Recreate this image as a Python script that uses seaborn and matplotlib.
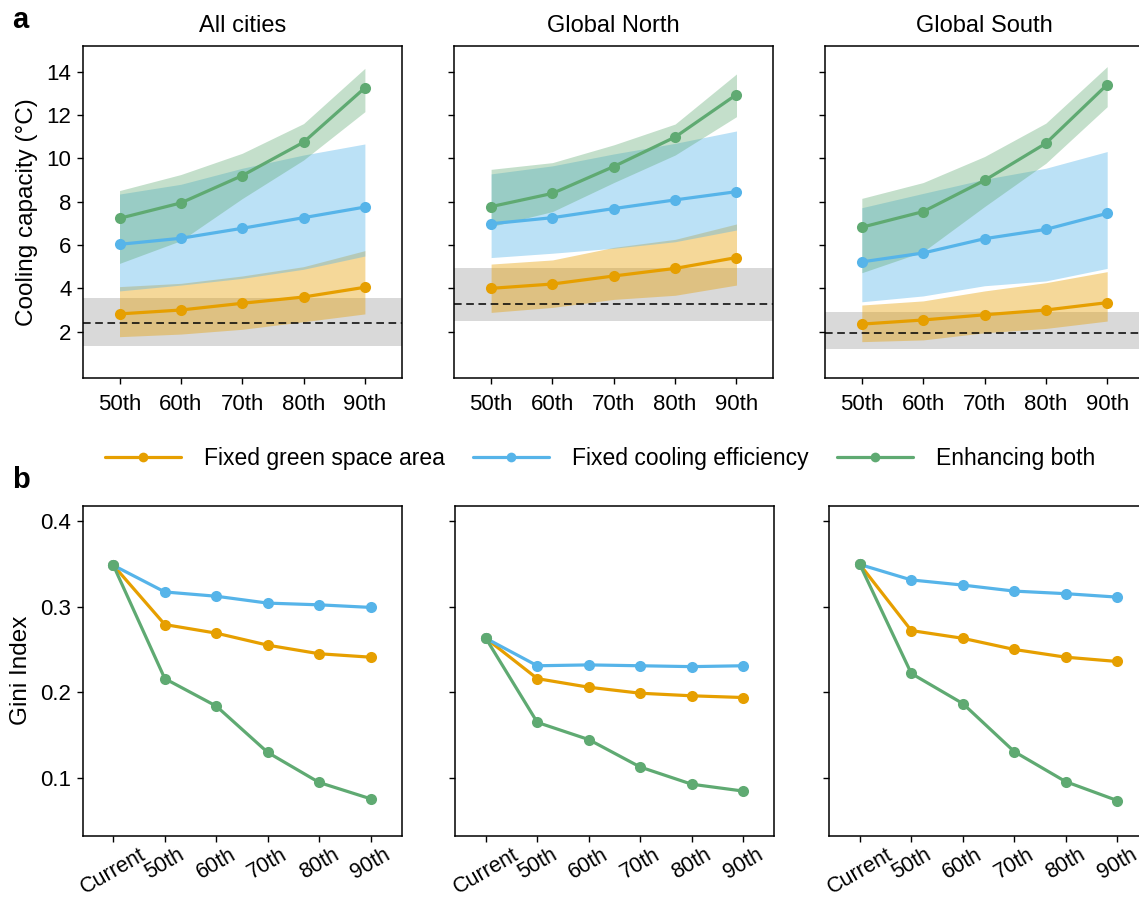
import numpy as np
import pandas as pd
import matplotlib
matplotlib.use("Agg")
import matplotlib.pyplot as plt
import seaborn as sns
from matplotlib.lines import Line2D

sns.set_theme(style="ticks")
plt.rcParams['font.family'] = ['Liberation Sans', 'DejaVu Sans']
plt.rcParams['text.color'] = 'black'
plt.rcParams['axes.labelcolor'] = 'black'
plt.rcParams['xtick.color'] = 'black'
plt.rcParams['ytick.color'] = 'black'

# ---------------- data ----------------
percentiles = ["50th", "60th", "70th", "80th", "90th"]
gini_x = ["Current", "50th", "60th", "70th", "80th", "90th"]
regions = ["All cities", "Global North", "Global South"]
scenarios = ["Fixed green space area", "Fixed cooling efficiency", "Enhancing both"]

# Panel a: cooling capacity (mean, lower, upper)
all_green_mean = [7.23, 7.94, 9.20, 10.74, 13.25]
all_green_low = [5.15, 6.20, 8.14, 9.92, 12.15]
all_green_high = [8.51, 9.25, 10.23, 11.60, 14.15]
all_blue_mean = [6.03, 6.31, 6.77, 7.26, 7.75]
all_blue_low = [3.88, 4.15, 4.46, 4.88, 5.49]
all_blue_high = [8.35, 8.80, 9.54, 10.15, 10.66]
all_orange_mean = [2.82, 3.00, 3.31, 3.60, 4.05]
all_orange_low = [1.77, 1.89, 2.11, 2.46, 2.82]
all_orange_high = [4.08, 4.23, 4.57, 5.00, 5.74]
all_current = 2.40
all_current_low = 1.35
all_current_high = 3.54

gn_green_mean = [7.77, 8.38, 9.62, 10.98, 12.94]
gn_green_low = [6.85, 7.54, 8.88, 10.15, 11.92]
gn_green_high = [9.49, 9.80, 10.62, 11.58, 13.89]
gn_blue_mean = [6.98, 7.26, 7.68, 8.08, 8.46]
gn_blue_low = [5.42, 5.62, 5.85, 6.15, 6.69]
gn_blue_high = [9.28, 9.65, 10.20, 10.69, 11.26]
gn_orange_mean = [4.00, 4.20, 4.57, 4.92, 5.42]
gn_orange_low = [2.89, 3.12, 3.49, 3.68, 4.15]
gn_orange_high = [5.12, 5.31, 5.89, 6.26, 6.97]
gn_current = 3.26
gn_current_low = 2.49
gn_current_high = 4.92

gs_green_mean = [6.82, 7.54, 8.98, 10.69, 13.40]
gs_green_low = [4.72, 5.69, 7.77, 9.77, 12.38]
gs_green_high = [8.15, 8.88, 10.08, 11.62, 14.23]
gs_blue_mean = [5.22, 5.63, 6.29, 6.72, 7.46]
gs_blue_low = [3.38, 3.65, 4.12, 4.34, 4.92]
gs_blue_high = [7.72, 8.38, 9.03, 9.54, 10.31]
gs_orange_mean = [2.35, 2.54, 2.78, 3.00, 3.34]
gs_orange_low = [1.54, 1.62, 1.95, 2.15, 2.49]
gs_orange_high = [3.23, 3.42, 3.88, 4.26, 4.77]
gs_current = 1.92
gs_current_low = 1.20
gs_current_high = 2.92

# Panel b: Gini index
all_gini_orange = [0.348, 0.279, 0.269, 0.255, 0.245, 0.241]
all_gini_blue = [0.348, 0.317, 0.312, 0.304, 0.302, 0.299]
all_gini_green = [0.348, 0.216, 0.184, 0.130, 0.095, 0.076]
gn_gini_orange = [0.263, 0.216, 0.206, 0.199, 0.196, 0.194]
gn_gini_blue = [0.263, 0.231, 0.232, 0.231, 0.230, 0.231]
gn_gini_green = [0.263, 0.165, 0.145, 0.113, 0.093, 0.085]
gs_gini_orange = [0.349, 0.272, 0.263, 0.250, 0.241, 0.236]
gs_gini_blue = [0.349, 0.331, 0.325, 0.318, 0.315, 0.311]
gs_gini_green = [0.349, 0.222, 0.187, 0.131, 0.096, 0.074]

# ---------------- styling ----------------
C_ORANGE = "#E69F00"
C_BLUE = "#56B4E9"
C_GREEN = "#5FAA72"
palette = {scenarios[0]: C_ORANGE, scenarios[1]: C_BLUE, scenarios[2]: C_GREEN}

top_data = [
    dict(mean=[all_orange_mean, all_blue_mean, all_green_mean],
         low=[all_orange_low, all_blue_low, all_green_low],
         high=[all_orange_high, all_blue_high, all_green_high],
         cur=all_current, clo=all_current_low, chi=all_current_high),
    dict(mean=[gn_orange_mean, gn_blue_mean, gn_green_mean],
         low=[gn_orange_low, gn_blue_low, gn_green_low],
         high=[gn_orange_high, gn_blue_high, gn_green_high],
         cur=gn_current, clo=gn_current_low, chi=gn_current_high),
    dict(mean=[gs_orange_mean, gs_blue_mean, gs_green_mean],
         low=[gs_orange_low, gs_blue_low, gs_green_low],
         high=[gs_orange_high, gs_blue_high, gs_green_high],
         cur=gs_current, clo=gs_current_low, chi=gs_current_high),
]
bot_data = [
    [all_gini_orange, all_gini_blue, all_gini_green],
    [gn_gini_orange, gn_gini_blue, gn_gini_green],
    [gs_gini_orange, gs_gini_blue, gs_gini_green],
]

W, H = 1139, 899
fig = plt.figure(figsize=(W / 100, H / 100), dpi=100)

top_lefts = [82.7, 454.3, 825.0]
bot_lefts = [82.5, 455.0, 829.0]
pw = 319.0

def add_ax(left_px, top_px, bottom_px):
    return fig.add_axes([left_px / W, 1 - bottom_px / H, pw / W, (bottom_px - top_px) / H])

def style_ax(ax):
    for s in ax.spines.values():
        s.set_visible(True)
        s.set_linewidth(1.1)
        s.set_color("black")
    ax.tick_params(axis="both", direction="out", length=4.5, width=1.0,
                   labelsize=16, colors="black")

xs = np.arange(len(percentiles))
for i, reg in enumerate(regions):
    ax = add_ax(top_lefts[i], 46.0, 378.3)
    d = top_data[i]
    ax.axhspan(d["clo"], d["chi"], color="#d9d9d9", lw=0, zorder=0)
    band_alpha = [0.4, 0.4, 0.37]
    for k, sc in enumerate(scenarios):
        ax.fill_between(xs, d["low"][k], d["high"][k], color=palette[sc],
                        alpha=band_alpha[k], lw=0, zorder=1)
    ax.axhline(d["cur"], color="black", ls=(0, (5, 3)), lw=1.1, zorder=3)
    rows = []
    for k, sc in enumerate(scenarios):
        for j, p in enumerate(percentiles):
            rows.append(dict(x=j, y=d["mean"][k][j], scenario=sc))
    df = pd.DataFrame(rows)
    sns.lineplot(data=df, x="x", y="y", hue="scenario", palette=palette,
                 marker="o", markersize=8, markeredgewidth=0, lw=2.3,
                 ax=ax, legend=False, zorder=4)
    ax.set_xlim(-0.6, 4.6)
    ax.set_ylim(-0.15, 15.18)
    ax.set_xticks(xs)
    ax.set_xticklabels(percentiles)
    ax.set_yticks([2, 4, 6, 8, 10, 12, 14])
    ax.set_xlabel("")
    ax.set_title(reg, fontsize=17, pad=10)
    style_ax(ax)
    ax.tick_params(axis="x", pad=7)
    if i == 0:
        ax.set_ylabel("Cooling capacity (°C)", fontsize=17.5, labelpad=6)
    else:
        ax.set_ylabel("")
        ax.set_yticklabels([])

xg = np.arange(len(gini_x))
for i, reg in enumerate(regions):
    ax = add_ax(bot_lefts[i], 505.7, 835.7)
    rows = []
    for k, sc in enumerate(scenarios):
        for j, p in enumerate(gini_x):
            rows.append(dict(x=j, y=bot_data[i][k][j], scenario=sc))
    df = pd.DataFrame(rows)
    sns.lineplot(data=df, x="x", y="y", hue="scenario", palette=palette,
                 marker="o", markersize=8, markeredgewidth=0, lw=2.3,
                 ax=ax, legend=False)
    ax.set_xlim(-0.6, 5.6)
    ax.set_ylim(0.033, 0.4175)
    ax.set_xticks(xg)
    ax.set_xticklabels(gini_x, rotation=30, ha="center")
    ax.set_yticks([0.1, 0.2, 0.3, 0.4])
    ax.set_xlabel("")
    style_ax(ax)
    ax.tick_params(axis="x", pad=1.5, labelsize=15.5)
    if i == 0:
        ax.set_ylabel("Gini Index", fontsize=17.5, labelpad=6)
    else:
        ax.set_ylabel("")
        ax.set_yticklabels([])

handles = [Line2D([0], [0], color=palette[sc], lw=2.3, marker="o", markersize=7,
                  markeredgewidth=0) for sc in scenarios]
fig.legend(handles, scenarios, loc="center", bbox_to_anchor=(0.527, 1 - 459 / H),
           ncol=3, frameon=False, fontsize=16.5, handlelength=3.3,
           handletextpad=1.0, columnspacing=1.25)

fig.text(12 / W, 1 - 20 / H, "a", fontsize=21, fontweight="bold", va="center", ha="left")
fig.text(12 / W, 1 - 480 / H, "b", fontsize=21, fontweight="bold", va="center", ha="left")

fig.savefig("out.png", dpi=100)
